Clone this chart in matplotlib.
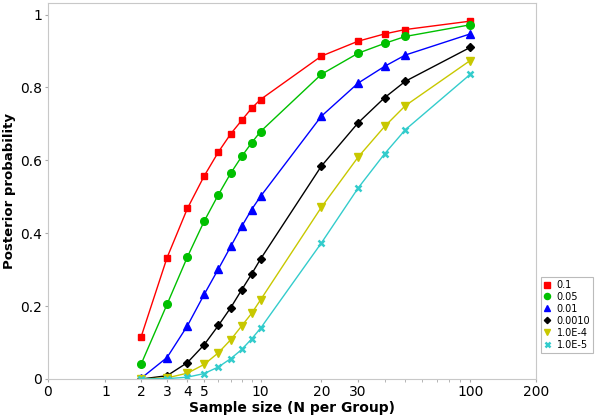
import numpy as np
import matplotlib
matplotlib.use("Agg")
import matplotlib.pyplot as plt
from matplotlib.ticker import FixedLocator, FixedFormatter

N = [2, 3, 4, 5, 6, 7, 8, 9, 10, 20, 30, 40, 50, 100]
labels = ["0.1", "0.05", "0.01", "0.0010", "1.0E-4", "1.0E-5"]
p_01 = [0.116, 0.333, 0.468, 0.557, 0.623, 0.673, 0.710, 0.743, 0.767, 0.886, 0.927, 0.947, 0.959, 0.982]
p_005 = [0.041, 0.205, 0.335, 0.433, 0.506, 0.565, 0.611, 0.648, 0.679, 0.836, 0.894, 0.921, 0.940, 0.972]
p_001 = [0.002, 0.059, 0.146, 0.232, 0.302, 0.364, 0.419, 0.465, 0.501, 0.721, 0.812, 0.858, 0.889, 0.947]
p_0001 = [0.000, 0.009, 0.045, 0.094, 0.147, 0.196, 0.245, 0.288, 0.329, 0.584, 0.703, 0.772, 0.817, 0.910]
p_1e4 = [0.000, 0.003, 0.016, 0.040, 0.072, 0.108, 0.146, 0.180, 0.217, 0.471, 0.609, 0.693, 0.750, 0.874]
p_1e5 = [0.000, 0.001, 0.005, 0.015, 0.033, 0.056, 0.081, 0.110, 0.139, 0.373, 0.524, 0.618, 0.684, 0.836]

xticks = [0, 1, 2, 3, 4, 5, 10, 20, 30, 100, 200]
xminor = [6, 7, 8, 9, 40, 50, 60, 70, 80, 90]
yticks = [0, 0.2, 0.4, 0.6, 0.8, 1.0]
ytick_labels = ["0", "0.2", "0.4", "0.6", "0.8", "1"]

C = 1.2
def fwd(x):
    return np.log10((np.asarray(x, dtype=float) + C) / C)
def inv(y):
    return C * 10 ** np.asarray(y, dtype=float) - C

fig = plt.figure(figsize=(6, 4.18), dpi=100)
ax = fig.add_axes([47.7 / 600, 39 / 418, (535.7 - 47.7) / 600, (379 - 3.3) / 418])
ax.set_xscale('function', functions=(fwd, inv))

series = [
    (p_01, '#ff0000', 's', 5, 1),
    (p_005, '#00c000', 'o', 5.5, 1),
    (p_001, '#0000ff', '^', 5.5, 1),
    (p_0001, '#000000', 'D', 4, 1),
    (p_1e4, '#c8c800', 'v', 5.5, 1),
    (p_1e5, '#33cccc', 'x', 4.5, 1.8),
]
for (vals, col, mk, ms, mew), lab in zip(series, labels):
    ax.plot(N, vals, color=col, marker=mk, markersize=ms, markeredgewidth=mew,
            linewidth=1.0, label=lab, markeredgecolor=col, markerfacecolor=col)

ax.set_xlim(0, 200)
ax.set_ylim(0, 1.031)
ax.xaxis.set_major_locator(FixedLocator(xticks))
ax.xaxis.set_major_formatter(FixedFormatter([str(t) for t in xticks]))
ax.xaxis.set_minor_locator(FixedLocator(xminor))
ax.xaxis.set_minor_formatter(FixedFormatter([""] * len(xminor)))
ax.set_yticks(yticks)
ax.set_yticklabels(ytick_labels)

for s in ax.spines.values():
    s.set_color('#c8c8c8')
ax.tick_params(axis='both', which='major', length=2, color='#aaaaaa', labelsize=10, pad=2)
ax.tick_params(axis='x', which='minor', length=2, color='#aaaaaa')

ax.set_xlabel("Sample size (N per Group)", fontsize=10, fontweight='bold', labelpad=2)
ax.set_ylabel("Posterior probability", fontsize=9.5, fontweight='bold', labelpad=3)

leg = fig.legend(loc='upper left', bbox_to_anchor=(541 / 600, 1 - 277 / 418),
                 fontsize=7, frameon=True, fancybox=False, borderpad=0.3,
                 handlelength=0.7, handletextpad=0.6, labelspacing=0.2,
                 borderaxespad=0, markerscale=0.8)
leg.get_frame().set_edgecolor('#aaaaaa')
leg.get_frame().set_linewidth(0.8)
for h in leg.get_lines():
    h.set_linestyle('none')

fig.savefig("out.png", dpi=100)
